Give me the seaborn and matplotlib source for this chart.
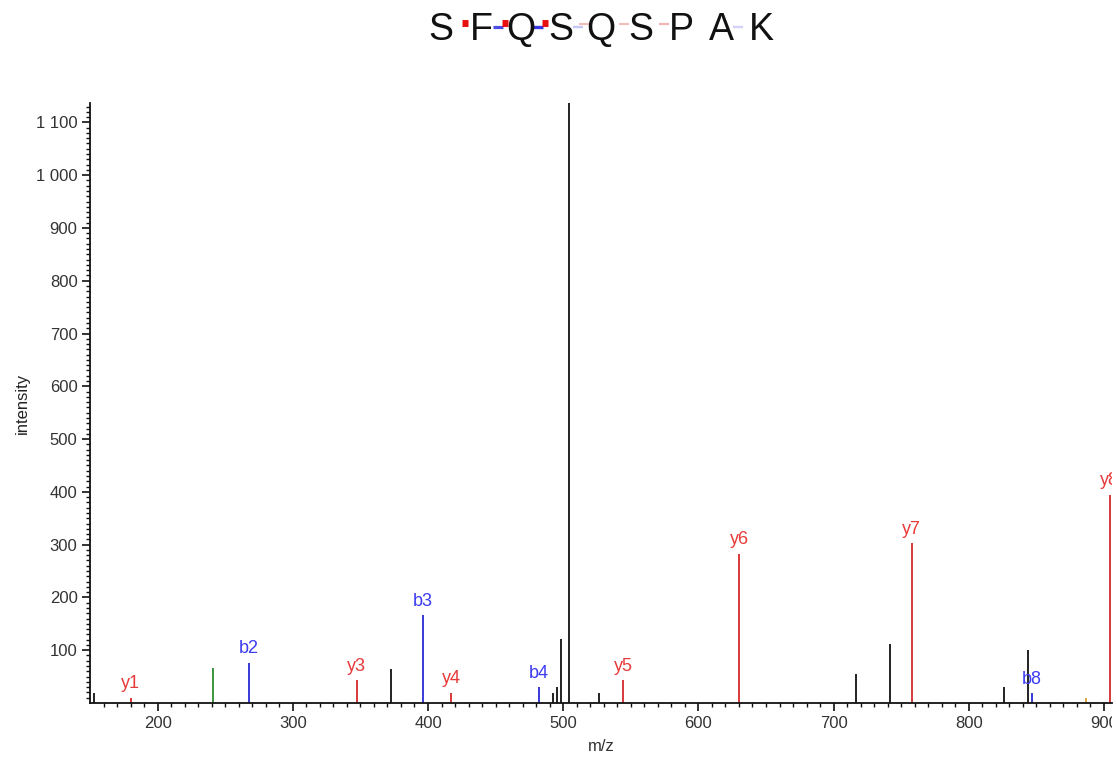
import matplotlib
matplotlib.use("Agg")
import matplotlib.pyplot as plt
import seaborn as sns
from matplotlib.lines import Line2D
from matplotlib.patches import Rectangle
from matplotlib.ticker import FixedLocator, FuncFormatter

# Peaks
mz = [152.6, 180.0, 241.0, 267.7, 347.4, 372.6, 396.0, 417.0, 482.0, 492.4, 495.3,
      498.5, 504.2, 526.7, 544.4, 630.4, 716.3, 741.5, 757.8, 825.9, 843.7, 846.7,
      886.7, 904.2]
intensity = [19, 10, 66, 76, 43, 65, 166, 19, 30, 19, 30,
             121, 1136, 19, 43, 283, 54, 111, 303, 31, 100, 18,
             9, 394]
ion_type = ["other", "y", "green", "b", "y", "other", "b", "y", "b", "other", "other",
            "other", "other", "other", "y", "y", "other", "other", "y", "other", "other", "b",
            "orange", "y"]
ion_label = ["", "y1", "", "b2", "y3", "", "b3", "y4", "b4", "", "",
             "", "", "", "y5", "y6", "", "", "y7", "", "", "b8",
             "", "y8"]

# Peptide and fragment coverage marks (0 = none, 1 = strong)
sequence = list("SFQSQSPAK")
b_cover = [0, 0.8, 0.9, 0.25, 0, 0, 0, 0.2]
y_cover = [1, 1, 1, 0.3, 0.3, 0.35, 0, 0]

line_colors = {"y": "#d42a2a", "b": "#2a2ad4", "other": "#111111",
               "green": "#2e8b2e", "orange": "#d4a030"}
text_colors = {"y": "#e83a3a", "b": "#3c3cf0"}

sns.set_theme(style="ticks")
plt.rcParams['font.family'] = ['Liberation Sans', 'DejaVu Sans']

W, H = 1117, 760
fig = plt.figure(figsize=(11.17, 7.6), dpi=100)
ax = fig.add_axes([0.0806, 0.075, 0.915, 0.789])
# the original image is cut off just right of the axis end
edge = Rectangle((0, 0), 1112 / W, 1, transform=fig.transFigure)

for t in line_colors:
    xs = [m for m, k in zip(mz, ion_type) if k == t]
    hs = [h for h, k in zip(intensity, ion_type) if k == t]
    ax.vlines(xs, 0, hs, color=line_colors[t], linewidth=1.3)

for m, h, k, lab in zip(mz, intensity, ion_type, ion_label):
    if lab:
        a = ax.annotate(lab, (m, h), xytext=(0, 4), textcoords="offset points",
                        ha="center", va="bottom", fontsize=13,
                        color=text_colors[k], annotation_clip=False)
        a.set_clip_path(edge)

ax.set_xlim(150, 906)
ax.set_ylim(0, 1136)
ax.xaxis.set_major_locator(FixedLocator(range(200, 1000, 100)))
ax.xaxis.set_minor_locator(FixedLocator([v for v in range(160, 910, 10) if v % 100]))
ax.yaxis.set_major_locator(FixedLocator(range(100, 1200, 100)))
ax.yaxis.set_minor_locator(FixedLocator([v for v in range(10, 1140, 10) if v % 100]))
ax.yaxis.set_major_formatter(FuncFormatter(
    lambda v, p: f"{int(v):,}".replace(",", " ")))
ax.tick_params(which="major", direction="out", length=6, width=1.2,
               labelsize=12, labelcolor="#333333", color="#111111", pad=3)
ax.tick_params(which="minor", direction="out", length=3, width=1, color="#111111")
ax.set_xlabel("m/z", fontsize=12, color="#333333", labelpad=6)
ax.set_ylabel("intensity", fontsize=12, color="#222222", labelpad=4)
sns.despine(ax=ax)
for s in ["left", "bottom"]:
    ax.spines[s].set_linewidth(1.3)
    ax.spines[s].set_color("#111111")

# Sequence header
x0, dx, yc = 441, 40, 30
for i, aa in enumerate(sequence):
    fig.text((x0 + i * dx) / W, 1 - yc / H, aa, fontsize=27, ha="center",
             va="center", color="#111111")
for i in range(len(sequence) - 1):
    gx = x0 + i * dx + dx / 2
    if b_cover[i] > 0:
        fig.add_artist(Line2D([(gx - 8) / W, (gx + 2) / W], [1 - 27 / H] * 2,
                              color="#2020e0", alpha=b_cover[i],
                              linewidth=1.5 + 1.0 * b_cover[i], solid_capstyle="butt",
                              transform=fig.transFigure))
    if y_cover[i] > 0:
        if y_cover[i] >= 0.9:
            fig.add_artist(Line2D([(gx + 1) / W, (gx + 7) / W], [1 - 22.5 / H] * 2,
                                  color="#e81010", linewidth=5, solid_capstyle="butt",
                                  transform=fig.transFigure))
        else:
            fig.add_artist(Line2D([(gx - 2) / W, (gx + 8) / W], [1 - 24 / H] * 2,
                                  color="#e02020", alpha=y_cover[i], linewidth=1.5,
                                  solid_capstyle="butt", transform=fig.transFigure))

fig.canvas.draw()
for lbl in ax.get_xticklabels():
    lbl.set_clip_path(edge)

fig.savefig("out.png", dpi=100)
